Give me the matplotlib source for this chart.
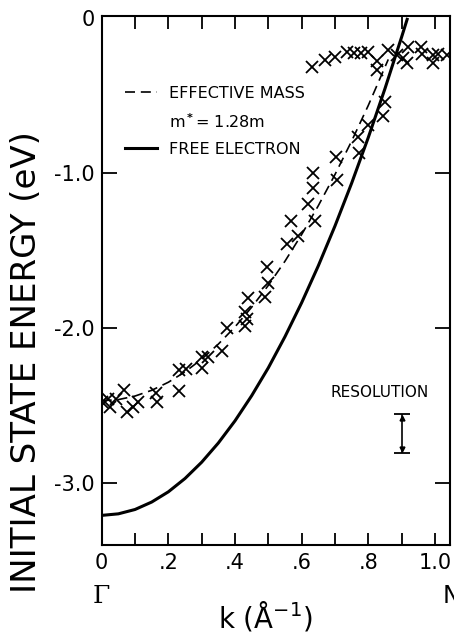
import numpy as np
import matplotlib
matplotlib.use("Agg")
import matplotlib.pyplot as plt
from matplotlib.lines import Line2D

plt.rcParams['font.family'] = ['DejaVu Sans']

# ---- data ----
data_k = [0.000, 0.019, 0.025, 0.043, 0.067, 0.076, 0.094, 0.109, 0.163, 0.166,
          0.232, 0.232, 0.253, 0.301, 0.301, 0.319, 0.361, 0.375, 0.430, 0.436,
          0.430, 0.439, 0.490, 0.500, 0.496, 0.557, 0.590, 0.567, 0.640, 0.619,
          0.634, 0.634, 0.703, 0.706, 0.773, 0.770, 0.800, 0.845, 0.850,
          0.631, 0.670, 0.700, 0.736, 0.757, 0.778, 0.800, 0.826, 0.826, 0.860,
          0.886, 0.903, 0.916, 0.920, 0.958, 0.961, 0.995, 0.995, 1.010, 1.036]
data_E = [-2.48, -2.46, -2.51, -2.46, -2.40, -2.54, -2.51, -2.48, -2.42, -2.48,
          -2.41, -2.27, -2.265, -2.26, -2.19, -2.19, -2.15, -2.00, -1.99, -1.94,
          -1.90, -1.81, -1.80, -1.71, -1.61, -1.46, -1.41, -1.31, -1.31, -1.20,
          -1.10, -1.00, -0.90, -1.045, -0.87, -0.77, -0.69, -0.63, -0.54,
          -0.32, -0.27, -0.25, -0.22, -0.225, -0.225, -0.22, -0.28, -0.335, -0.21,
          -0.24, -0.26, -0.29, -0.19, -0.19, -0.23, -0.24, -0.29, -0.23, -0.24]

free_k = [0.00, 0.05, 0.10, 0.15, 0.20, 0.25, 0.30, 0.35, 0.40, 0.45,
          0.50, 0.55, 0.60, 0.65, 0.70, 0.75, 0.80, 0.85, 0.90, 0.918]
free_E = [-3.210, -3.200, -3.172, -3.124, -3.058, -2.972, -2.867, -2.743, -2.600, -2.438,
          -2.258, -2.057, -1.838, -1.600, -1.343, -1.067, -0.772, -0.457, -0.124, 0.000]

eff_k = [0.00, 0.05, 0.10, 0.15, 0.20, 0.25, 0.30, 0.35, 0.40, 0.45,
         0.50, 0.55, 0.60, 0.65, 0.70, 0.75, 0.80, 0.86]
eff_E = [-2.470, -2.463, -2.440, -2.403, -2.351, -2.284, -2.202, -2.105, -1.994, -1.867,
         -1.726, -1.570, -1.398, -1.212, -1.011, -0.795, -0.565, -0.268]

res_k = 0.90
res_top = -2.555
res_bottom = -2.806

x_ticks = [0.0, 0.1, 0.2, 0.3, 0.4, 0.5, 0.6, 0.7, 0.8, 0.9, 1.0]
x_ticklabels = ['0', '', '.2', '', '.4', '', '.6', '', '.8', '', '1.0']
y_ticks = [0.0, -1.0, -2.0, -3.0]
y_ticklabels = ['0', '-1.0', '-2.0', '-3.0']

# ---- figure ----
fig = plt.figure(figsize=(4.54, 6.35), dpi=100)
ax = fig.add_axes([0.224, 0.142, 0.767, 0.833])

ax.plot(free_k, free_E, color='black', lw=2.2, solid_capstyle='butt')
ax.plot(eff_k, eff_E, color='black', lw=1.2, dashes=(6, 3.5))
ax.plot(data_k, data_E, ls='none', marker='x', ms=8.5, mew=1.3, color='black')

# resolution bar
res_mid = (res_top + res_bottom) / 2
res_half = (res_top - res_bottom) / 2
ax.errorbar([res_k], [res_mid], yerr=[res_half], fmt='none', ecolor='black',
            elinewidth=1.2, capsize=6, capthick=1.3)
ax.plot([res_k], [res_top - 0.025], marker='^', ms=3.5, color='black')
ax.plot([res_k], [res_bottom + 0.025], marker='v', ms=3.5, color='black')
ax.text(0.835, -2.42, 'RESOLUTION', fontsize=11, ha='center', va='center')

ax.set_xlim(0, 1.045)
ax.set_ylim(-3.40, 0.013)

ax.set_xticks(x_ticks)
ax.set_xticklabels(x_ticklabels, fontsize=15)
ax.set_yticks(y_ticks)
ax.set_yticklabels(y_ticklabels, fontsize=15)
ax.tick_params(axis='x', direction='in', length=9, width=1.3, top=True, bottom=True, pad=6)
ax.tick_params(axis='y', direction='in', length=11, width=1.3, left=True, right=True, pad=5)
t0 = ax.yaxis.get_major_ticks()[0]
t0.tick1line.set_visible(False)
t0.tick2line.set_visible(False)
for s in ax.spines.values():
    s.set_linewidth(1.5)

ax.set_ylabel('INITIAL STATE ENERGY (eV)', fontsize=24.5)
ax.yaxis.set_label_coords(-0.168, 0.346)

# Gamma and N symmetry points, axis label
ax.text(0.0, -0.097, 'Γ', transform=ax.transAxes, fontsize=18, family='DejaVu Serif',
        ha='center', va='center')
ax.text(0.98, -0.097, 'N', transform=ax.transAxes, fontsize=17, ha='left', va='center')
ax.text(0.47, -0.135, 'k (Å$^{-1}$)', transform=ax.transAxes, fontsize=20,
        ha='center', va='center')

# legend
handles = [Line2D([], [], color='black', lw=1.2, dashes=(6, 3.5)),
           Line2D([], [], ls='none'),
           Line2D([], [], color='black', lw=2.2)]
labels = ['EFFECTIVE MASS', 'm$^{\\bf *}$= 1.28m', 'FREE ELECTRON']
ax.legend(handles, labels, loc='upper left', bbox_to_anchor=(0.05, 0.88),
          frameon=False, fontsize=11.5, handlelength=2.0, handletextpad=0.7,
          labelspacing=0.7, borderaxespad=0)

fig.savefig('out.png', dpi=100)
